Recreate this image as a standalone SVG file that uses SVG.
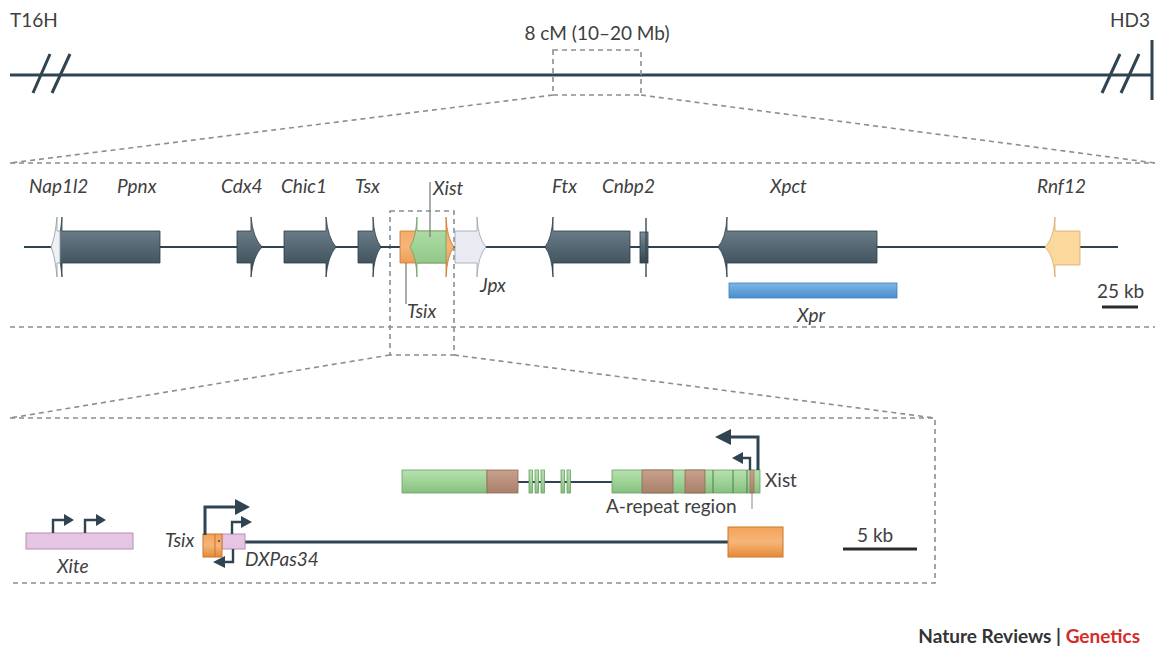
<svg xmlns="http://www.w3.org/2000/svg" width="1160" height="652" viewBox="0 0 1160 652">
  <defs>
    <linearGradient id="gDark" x1="0" y1="0" x2="0" y2="1">
      <stop offset="0" stop-color="#7d8f99"/>
      <stop offset="0.4" stop-color="#5c6f7a"/>
      <stop offset="1" stop-color="#33444e"/>
    </linearGradient>
    <linearGradient id="gGreen" x1="0" y1="0" x2="0" y2="1">
      <stop offset="0" stop-color="#b7e0b0"/>
      <stop offset="0.5" stop-color="#9fd396"/>
      <stop offset="1" stop-color="#86bf7f"/>
    </linearGradient>
    <linearGradient id="gOrange" x1="0" y1="0" x2="0" y2="1">
      <stop offset="0" stop-color="#f3a35a"/>
      <stop offset="0.5" stop-color="#f6b57a"/>
      <stop offset="1" stop-color="#e58a35"/>
    </linearGradient>
    <linearGradient id="gBrown" x1="0" y1="0" x2="0" y2="1">
      <stop offset="0" stop-color="#c9a08c"/>
      <stop offset="1" stop-color="#a9806c"/>
    </linearGradient>
    <linearGradient id="gBlue" x1="0" y1="0" x2="0" y2="1">
      <stop offset="0" stop-color="#7db6e6"/>
      <stop offset="1" stop-color="#4a8fcf"/>
    </linearGradient>
    <style>
      .axis { stroke: #2f4450; stroke-width: 3; fill: none; }
      .thin { stroke: #2f4450; stroke-width: 2.2; fill: none; }
      .dash { stroke: #8a8f93; stroke-width: 1.6; stroke-dasharray: 5 4; fill: none; }
      .dark { fill: url(#gDark); stroke: #2c3c46; stroke-width: 0.8; }
      .lbl { font-family: Lato, "Liberation Sans", sans-serif; font-size: 19px; fill: #404040; }
      .gene { font-style: italic; }
      .prom { stroke: #2f4450; stroke-width: 3; fill: none; }
      .promS { stroke: #2f4450; stroke-width: 2.4; fill: none; }
      .head { fill: #2f4450; }
      .scale { stroke: #2b2b2b; stroke-width: 3; }
    </style>
  </defs>

  <!-- chromosome overview -->
  <g id="chromosome">
    <line class="axis" x1="10" y1="75" x2="1152" y2="75"/>
    <line class="axis" x1="33" y1="93" x2="50" y2="54"/>
    <line class="axis" x1="52" y1="93" x2="70" y2="54"/>
    <line class="axis" x1="1102" y1="93" x2="1120" y2="54"/>
    <line class="axis" x1="1121" y1="93" x2="1139" y2="54"/>
    <line class="axis" x1="1152" y1="40" x2="1152" y2="100"/>
    <text class="lbl" x="10" y="27">T16H</text>
    <text class="lbl" x="1150" y="27" text-anchor="end">HD3</text>
    <text class="lbl" x="597" y="40" text-anchor="middle" font-size="17">8 cM (10–20 Mb)</text>
  </g>

  <!-- zoom guides -->
  <g id="connectors">
    <rect class="dash" x="553" y="50" width="88" height="45"/>
    <line class="dash" x1="553" y1="95" x2="10" y2="163"/>
    <line class="dash" x1="641" y1="95" x2="1155" y2="163"/>
    <line class="dash" x1="10" y1="163" x2="1155" y2="163"/>
    <line class="dash" x1="10" y1="327" x2="1155" y2="327"/>
    <rect class="dash" x="390" y="211" width="64" height="144"/>
    <line class="dash" x1="390" y1="355" x2="10" y2="418"/>
    <line class="dash" x1="454" y1="355" x2="935" y2="418"/>
    <polyline class="dash" points="10,418 935,418 935,583 10,583"/>
  </g>

  <!-- 8 cM region gene map -->
  <g id="region-track">
    <line class="thin" x1="24" y1="247" x2="1118" y2="247"/>
  </g>

  <g id="gene-Ppnx">
    <path class="dark" d="M160,231 H62 L62,217 Q60,238 57,247 Q60,256 62,277 L62,263 H160 Z"/>
    <text class="lbl gene" x="117" y="193">Ppnx</text>
  </g>
  <g id="gene-Nap1l2">
    <path d="M60,231 H57 L57,217 Q55,238 51,247 Q55,256 57,277 L57,263 H60 Z" fill="#eef0f3" stroke="#8a9aa4" stroke-width="0.8"/>
    <text class="lbl gene" x="29" y="193">Nap1l2</text>
  </g>
  <g id="gene-Cdx4">
    <path class="dark" d="M237,231 H251 L251,217 Q253,238 262,247 Q253,256 251,277 L251,263 H237 Z"/>
    <text class="lbl gene" x="221" y="193">Cdx4</text>
  </g>
  <g id="gene-Chic1">
    <path class="dark" d="M284,231 H326 L326,217 Q328,238 336,247 Q328,256 326,277 L326,263 H284 Z"/>
    <text class="lbl gene" x="281" y="193">Chic1</text>
  </g>
  <g id="gene-Tsx">
    <path class="dark" d="M358,231 H373 L373,217 Q374,238 381,247 Q374,256 373,277 L373,263 H358 Z"/>
    <text class="lbl gene" x="355" y="193">Tsx</text>
  </g>
  <g id="gene-Tsix">
    <path d="M400,231 H446 L446,217 Q447,238 454,247 Q447,256 446,277 L446,263 H400 Z" fill="url(#gOrange)" stroke="#c9762c" stroke-width="0.8"/>
    <line x1="406" y1="263" x2="406" y2="304" stroke="#777" stroke-width="1.2"/>
    <text class="lbl gene" x="407" y="318">Tsix</text>
  </g>
  <g id="gene-Xist">
    <path d="M446,231 H417 L417,217 Q416,238 410,247 Q416,256 417,277 L417,263 H446 Z" fill="url(#gGreen)" stroke="#6a9e66" stroke-width="0.8"/>
    <line x1="430" y1="182" x2="430" y2="237" stroke="#777" stroke-width="1.2"/>
    <text class="lbl gene" x="433" y="195">Xist</text>
  </g>
  <g id="gene-Jpx">
    <path d="M455,231 H477 L477,217 Q478,238 486,247 Q478,256 477,277 L477,263 H455 Z" fill="#eaeaf3" stroke="#9aa3b0" stroke-width="0.8"/>
    <text class="lbl gene" x="480" y="292">Jpx</text>
  </g>
  <g id="gene-Ftx">
    <path class="dark" d="M630,231 H553 L553,217 Q552,238 545,247 Q552,256 553,277 L553,263 H630 Z"/>
    <text class="lbl gene" x="552" y="193">Ftx</text>
  </g>
  <g id="gene-Cnbp2">
    <rect class="dark" x="640" y="232" width="8" height="31"/>
    <line x1="646" y1="218" x2="646" y2="277" stroke="#3a4b55" stroke-width="1.4"/>
    <text class="lbl gene" x="602" y="193">Cnbp2</text>
  </g>
  <g id="gene-Xpct">
    <path class="dark" d="M877,231 H727 L727,217 Q726,238 718,247 Q726,256 727,277 L727,263 H877 Z"/>
    <text class="lbl gene" x="770" y="193">Xpct</text>
  </g>
  <g id="gene-Xpr">
    <rect x="729" y="283" width="168" height="15" fill="url(#gBlue)" stroke="#3f7fbd" stroke-width="0.8"/>
    <text class="lbl gene" x="797" y="322">Xpr</text>
  </g>
  <g id="gene-Rnf12">
    <path d="M1080,231 H1055 L1055,217 Q1054,238 1045,247 Q1054,256 1055,277 L1055,265 H1080 Z" fill="#fbd89c" stroke="#d4ab6c" stroke-width="0.8"/>
    <text class="lbl gene" x="1037" y="193">Rnf12</text>
  </g>
  <g id="scale-25kb">
    <text class="lbl" x="1097" y="298">25 kb</text>
    <line class="scale" x1="1102" y1="307" x2="1138" y2="307"/>
  </g>

  <!-- Xic detail -->
  <g id="Xite">
    <rect x="26" y="533" width="107" height="16" fill="#e6c4e4" stroke="#b48fb2" stroke-width="1"/>
    <path class="promS" d="M53,533 V520 H66"/>
    <polygon class="head" points="64,514 74,520 64,526"/>
    <path class="promS" d="M85,533 V520 H98"/>
    <polygon class="head" points="96,514 106,520 96,526"/>
    <text class="lbl gene" x="57" y="573">Xite</text>
  </g>

  <g id="Tsix-locus">
    <line class="axis" x1="245" y1="542" x2="730" y2="542"/>
    <rect x="222" y="534" width="23" height="15" fill="#e6c4e4" stroke="#b48fb2" stroke-width="1"/>
    <rect x="203" y="534" width="19" height="23" fill="url(#gOrange)" stroke="#c9762c" stroke-width="1"/>
    <line x1="215" y1="534" x2="215" y2="557" stroke="#c9762c" stroke-width="1"/>
    <circle cx="219" cy="541" r="1" fill="#444"/>
    <rect x="728" y="527" width="55" height="30" fill="url(#gOrange)" stroke="#c9762c" stroke-width="1"/>
    <path class="prom" d="M205,535 V507 H238"/>
    <polygon class="head" points="235,499 250,507 235,515"/>
    <path class="promS" d="M232,534 V522 H243"/>
    <polygon class="head" points="241,516 252,522 241,528"/>
    <path class="promS" d="M233,549 V562 H223"/>
    <polygon class="head" points="225,556 213,562 225,568"/>
    <text class="lbl gene" x="165" y="547">Tsix</text>
    <text class="lbl gene" x="245" y="566">DXPas34</text>
  </g>

  <g id="Xist-locus">
    <line class="thin" x1="518" y1="482" x2="612" y2="482"/>
    <rect x="402" y="470" width="85" height="23" fill="url(#gGreen)" stroke="#6a9e66" stroke-width="0.8"/>
    <rect x="487" y="470" width="31" height="23" fill="url(#gBrown)" stroke="#8e6a58" stroke-width="0.8"/>
    <rect x="529" y="470" width="3.5" height="23" fill="url(#gGreen)" stroke="#6a9e66" stroke-width="0.8"/>
    <rect x="535" y="470" width="3.5" height="23" fill="url(#gGreen)" stroke="#6a9e66" stroke-width="0.8"/>
    <rect x="541" y="470" width="3.5" height="23" fill="url(#gGreen)" stroke="#6a9e66" stroke-width="0.8"/>
    <rect x="561" y="470" width="3.5" height="23" fill="url(#gGreen)" stroke="#6a9e66" stroke-width="0.8"/>
    <rect x="567" y="470" width="3.5" height="23" fill="url(#gGreen)" stroke="#6a9e66" stroke-width="0.8"/>
    <rect x="612" y="470" width="148" height="23" fill="url(#gGreen)" stroke="#6a9e66" stroke-width="0.8"/>
    <rect x="642" y="470" width="31" height="23" fill="url(#gBrown)" stroke="#8e6a58" stroke-width="0.8"/>
    <rect x="685" y="470" width="20" height="23" fill="url(#gBrown)" stroke="#8e6a58" stroke-width="0.8"/>
    <line x1="713" y1="470" x2="713" y2="493" stroke="#4f7a4c" stroke-width="1"/>
    <line x1="733" y1="470" x2="733" y2="493" stroke="#4f7a4c" stroke-width="1"/>
    <line x1="747" y1="470" x2="747" y2="493" stroke="#4f7a4c" stroke-width="1"/>
    <rect x="750" y="470" width="4" height="23" fill="url(#gBrown)" stroke="#8e6a58" stroke-width="0.6"/>
    <line x1="752" y1="493" x2="752" y2="509" stroke="#888" stroke-width="1"/>
    <path class="prom" d="M758,470 V437 H728"/>
    <polygon class="head" points="731,429 715,437 731,445"/>
    <path class="promS" d="M750,470 V458 H741"/>
    <polygon class="head" points="743,452 732,458 743,464"/>
    <text class="lbl" x="765" y="487">Xist</text>
    <text class="lbl" x="606" y="513">A-repeat region</text>
  </g>

  <g id="scale-5kb">
    <text class="lbl" x="857" y="542">5 kb</text>
    <line class="scale" x1="843" y1="549" x2="917" y2="549"/>
  </g>

  <g id="credit">
    <text x="1140" y="643" text-anchor="end" font-family="Lato, 'Liberation Sans', sans-serif" font-size="19" font-weight="bold" fill="#333">Nature Reviews | <tspan fill="#d52b2b">Genetics</tspan></text>
  </g>
</svg>
